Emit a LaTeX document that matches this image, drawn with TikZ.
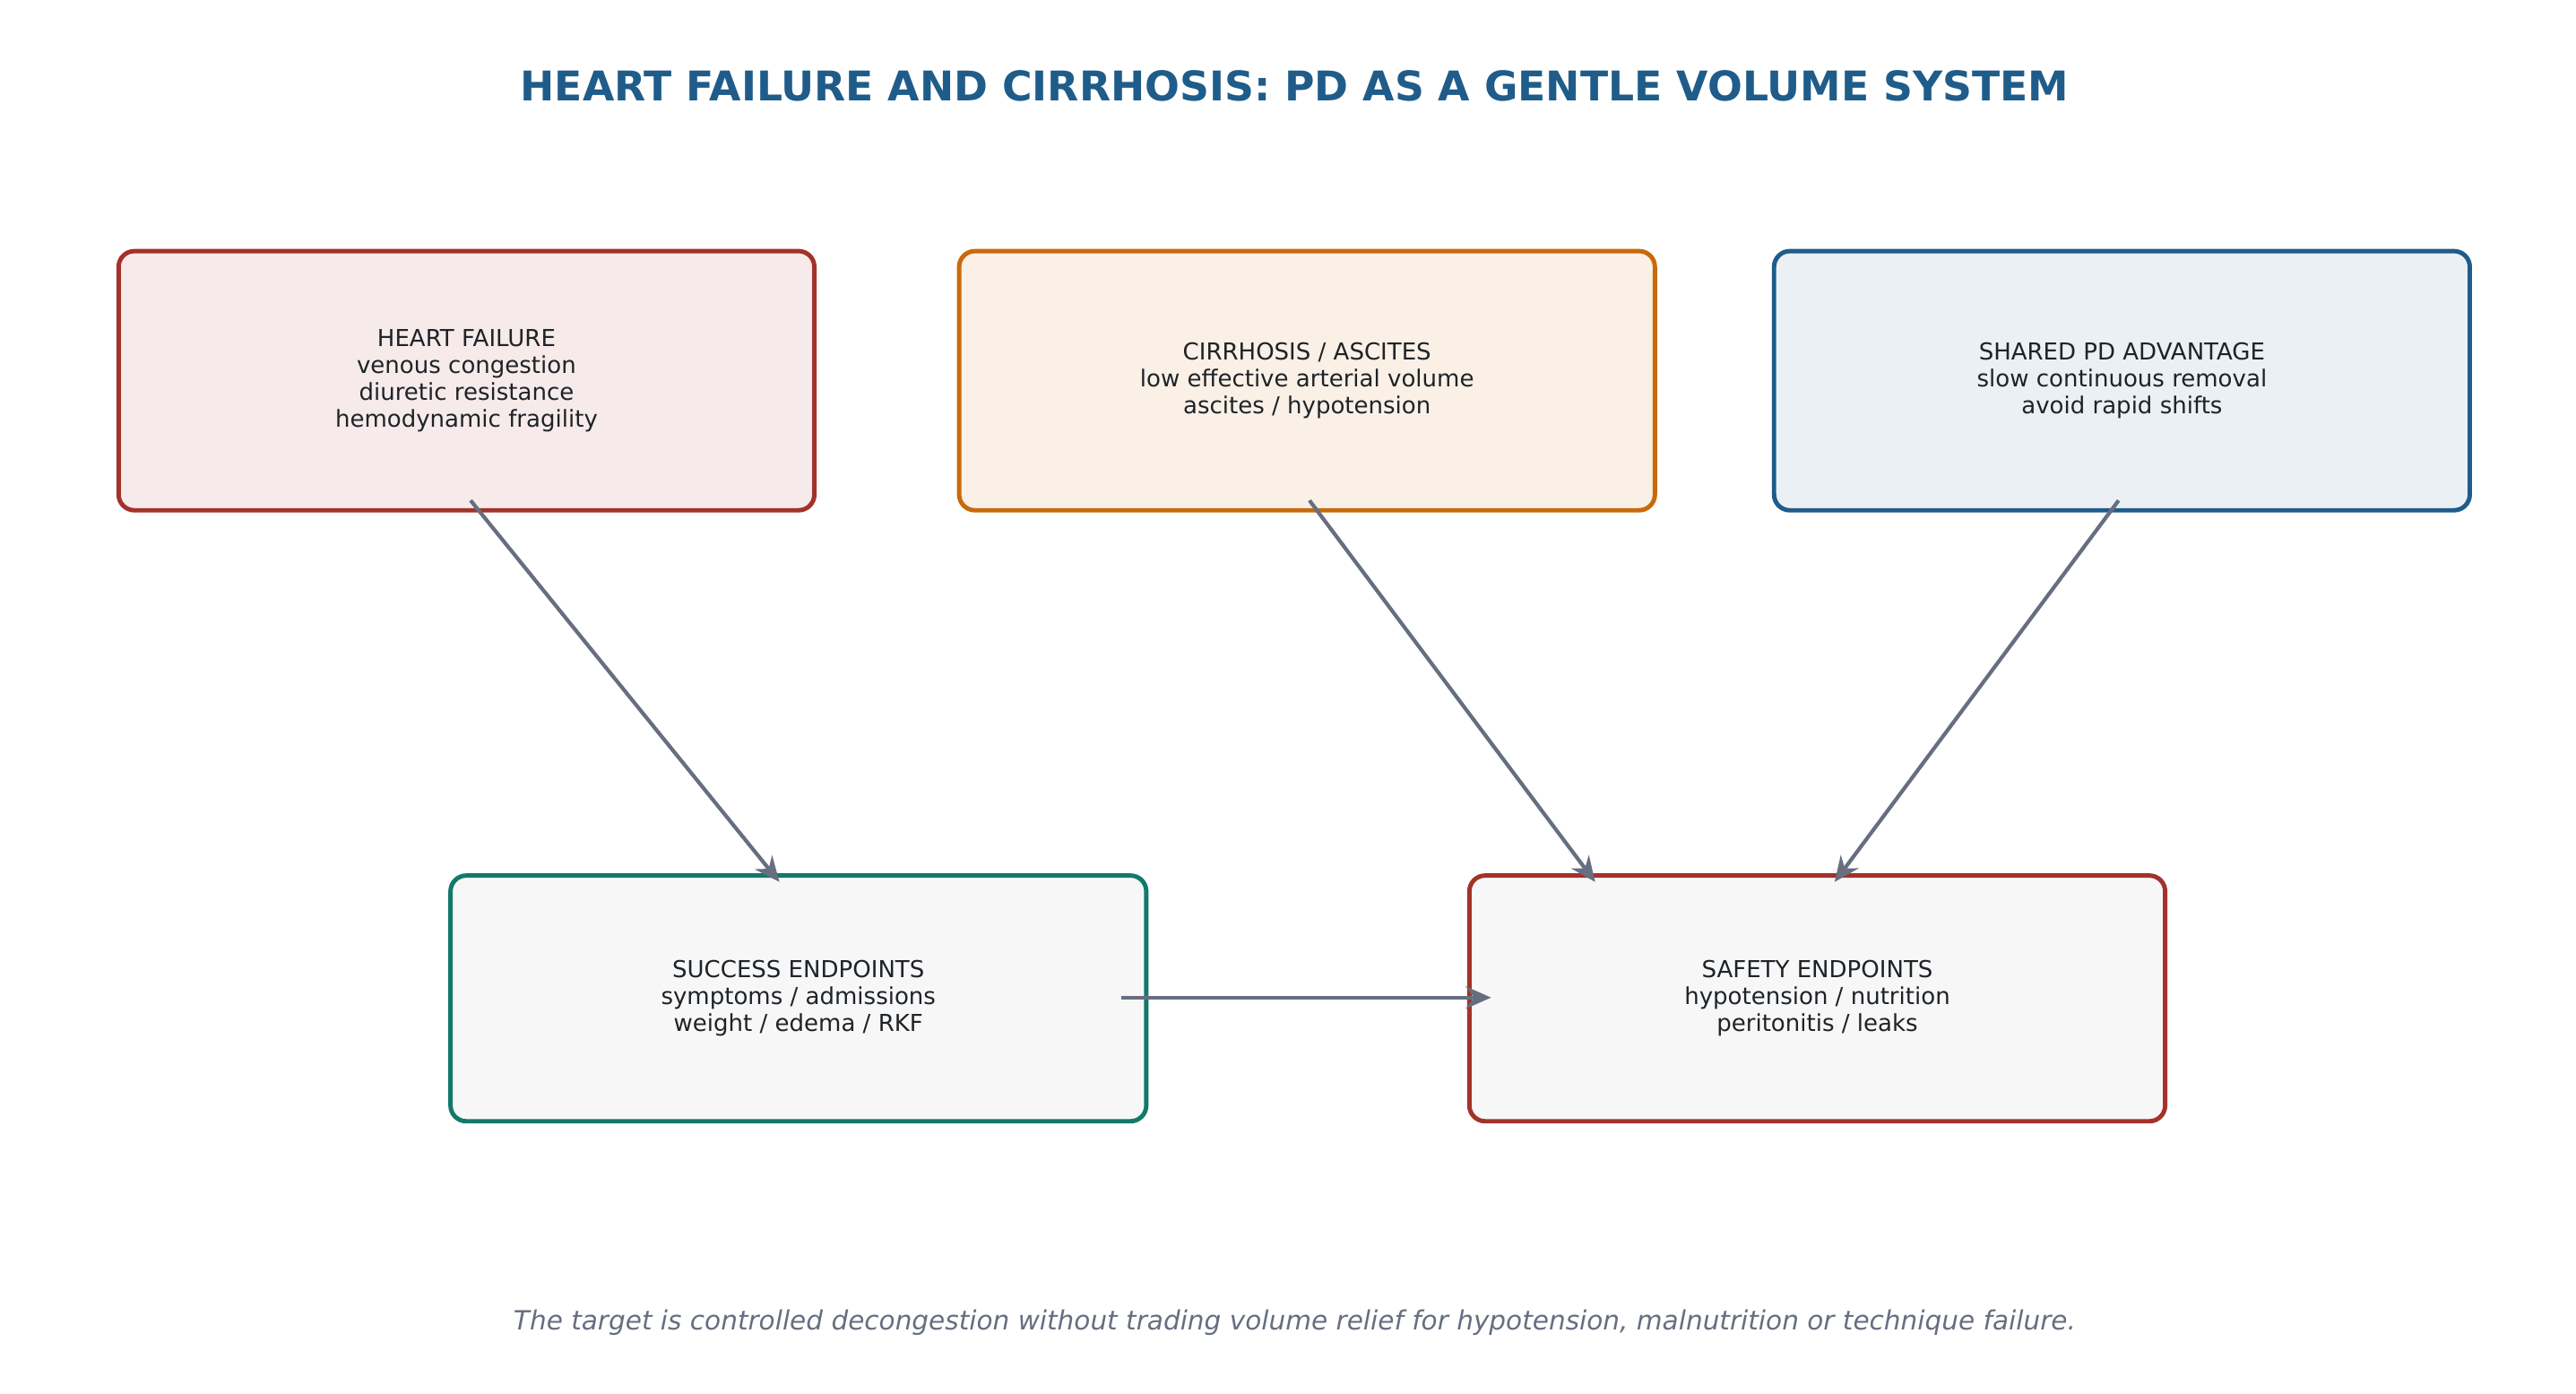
\documentclass[tikz,border=0pt]{standalone}
\usepackage{fontspec}
\setmainfont{DejaVu Sans}
\usetikzlibrary{arrows.meta}
\definecolor{tblue}{HTML}{1F5C8A}
\definecolor{tred}{HTML}{A3322A}
\definecolor{torange}{HTML}{C96A0A}
\definecolor{tteal}{HTML}{127A6A}
\definecolor{tgray}{HTML}{666E80}
\definecolor{txt}{HTML}{1E2328}
\tikzset{
  box/.style={draw, line width=1.4pt, rounded corners=5pt, minimum width=7.76cm, align=center, text=txt, font=\fontsize{7.4}{8.6}\selectfont, inner sep=0pt},
  arr/.style={draw=tgray, line width=1.2pt, -{Stealth[length=8pt,width=7pt]}}
}
\begin{document}
\begin{tikzpicture}[x=0.018423cm,y=-0.018423cm]
\useasboundingbox (0,0) rectangle (1560,843.5);
\node[font=\fontsize{13}{15}\selectfont\bfseries, text=tblue] (title) at (784,52) {HEART FAILURE AND CIRRHOSIS: PD AS A GENTLE VOLUME SYSTEM};
\node[box, draw=tred, fill=tred!10, minimum height=2.89cm] (hf) at (282.5,230.5) {HEART FAILURE\\venous congestion\\diuretic resistance\\hemodynamic fragility};
\node[box, draw=torange, fill=torange!10, minimum height=2.89cm] (ci) at (791.5,230.5) {CIRRHOSIS / ASCITES\\low effective arterial volume\\ascites / hypotension};
\node[box, draw=tblue, fill=tblue!9, minimum height=2.89cm] (sh) at (1285,230.5) {SHARED PD ADVANTAGE\\slow continuous removal\\avoid rapid shifts};
\node[box, draw=tteal, fill=gray!6, minimum height=2.74cm] (su) at (483.5,604.5) {SUCCESS ENDPOINTS\\symptoms / admissions\\weight / edema / RKF};
\node[box, draw=tred, fill=gray!6, minimum height=2.74cm] (sa) at (1100.5,604.5) {SAFETY ENDPOINTS\\hypotension / nutrition\\peritonitis / leaks};
\coordinate (a1) at (285,303); \coordinate (b1) at (472,534);
\coordinate (a2) at (793,303); \coordinate (b2) at (966,534);
\coordinate (a3) at (1283,303); \coordinate (b3) at (1111,534);
\coordinate (a4) at (679,604); \coordinate (b4) at (903,604);
\draw[arr] (a1) -- (b1);
\draw[arr] (a2) -- (b2);
\draw[arr] (a3) -- (b3);
\draw[arr] (a4) -- (b4);
\node[font=\fontsize{8.4}{10}\selectfont\itshape, text=tgray] (foot) at (784,801) {The target is controlled decongestion without trading volume relief for hypotension, malnutrition or technique failure.};
\end{tikzpicture}
\end{document}
